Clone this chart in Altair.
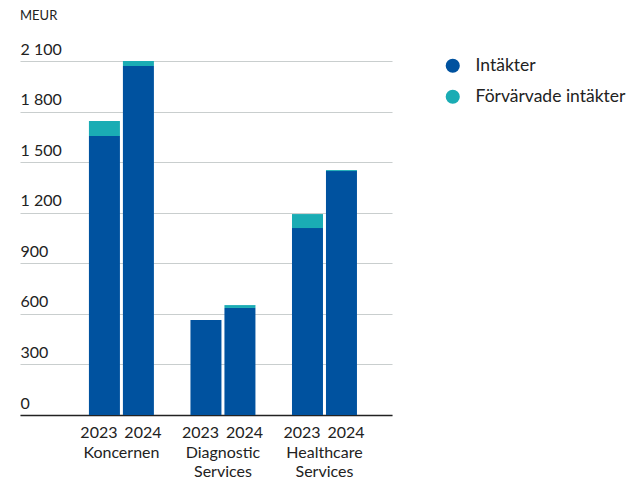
import altair as alt
import pandas as pd

segments = ["Koncernen", "Diagnostic\nServices", "Healthcare\nServices"]
years = ["2023", "2024"]
intakter = [1655, 2070, 563, 635, 1109, 1447]
forvarvade = [89, 30, 0, 17, 83, 6]
series = ["Intäkter", "Förvärvade intäkter"]
y_ticks = [0, 300, 600, 900, 1200, 1500, 1800, 2100]

rows = []
i = 0
for s in segments:
    for yr in years:
        rows.append({"segment": s, "year": yr, "serie": series[0], "value": intakter[i], "order": 0})
        rows.append({"segment": s, "year": yr, "serie": series[1], "value": forvarvade[i], "order": 1})
        i += 1
df = pd.DataFrame(rows)
labels_df = pd.DataFrame([{"segment": s, "year": yr} for s in segments for yr in years])
seg_df = pd.DataFrame({"segment": segments})

W, H = 372, 354
FONT = "Lato"

xscale = alt.Scale(domain=segments, paddingInner=0.36, paddingOuter=0.512, align=0.663)
xoff = alt.Scale(domain=years, paddingInner=0.088, paddingOuter=0)

bars = alt.Chart(df).mark_bar().encode(
    x=alt.X("segment:N", scale=xscale, sort=segments,
            axis=alt.Axis(title=None, labels=False, ticks=False, domain=True,
                          domainColor="#222222", domainWidth=1.5)),
    xOffset=alt.XOffset("year:N", scale=xoff),
    y=alt.Y("value:Q", stack="zero", scale=alt.Scale(domain=[0, 2100], nice=False),
            axis=alt.Axis(title=None, values=y_ticks, grid=True, gridColor="#c9cece",
                          gridWidth=1.2, domain=False, ticks=False, labelAlign="left",
                          labelBaseline="bottom", labelPadding=0, labelOffset=-4,
                          labelFont=FONT, labelFontSize=16, labelColor="#222222",
                          labelExpr="replace(format(datum.value, ','), ',', ' ')")),
    color=alt.Color("serie:N", scale=alt.Scale(domain=series, range=["#00529f", "#1aacb4"]),
                    legend=alt.Legend(title=None, orient="none", legendX=424, legendY=-4,
                                      symbolType="circle", symbolSize=200, labelFont=FONT,
                                      labelFontSize=17.5, labelColor="#222222", rowPadding=12,
                                      labelOffset=14, symbolStrokeWidth=0, labelLimit=300)),
    order=alt.Order("order:Q"),
)

def year_layer(yr, dx):
    return alt.Chart(labels_df).transform_filter(alt.datum.year == yr).mark_text(
        font=FONT, fontSize=16, color="#222222", baseline="middle", dx=dx).encode(
        x=alt.X("segment:N", scale=xscale, sort=segments),
        xOffset=alt.XOffset("year:N", scale=xoff),
        y=alt.value(H + 18),
        text="year:N",
    )

seg_text = alt.Chart(seg_df).mark_text(font=FONT, fontSize=16, color="#222222", baseline="middle",
                                       lineBreak="\n", lineHeight=19).encode(
    x=alt.X("segment:N", scale=xscale, sort=segments),
    y=alt.value(H + 38),
    text="segment:N",
)

meur = alt.Chart(seg_df.head(1)).mark_text(font=FONT, fontSize=13, color="#222222", align="left",
                                           baseline="top", text="MEUR").encode(
    x=alt.value(0), y=alt.value(-51))

chart = alt.layer(bars, year_layer("2023", -5.5), year_layer("2024", 4.5), seg_text, meur).properties(
    width=W, height=H,
    autosize=alt.AutoSizeParams(type="none"),
    padding={"left": 12, "top": 53, "right": 238, "bottom": 66},
).configure_view(stroke=None)

chart.save("out.html", embed_options={"renderer": "svg", "actions": False})
